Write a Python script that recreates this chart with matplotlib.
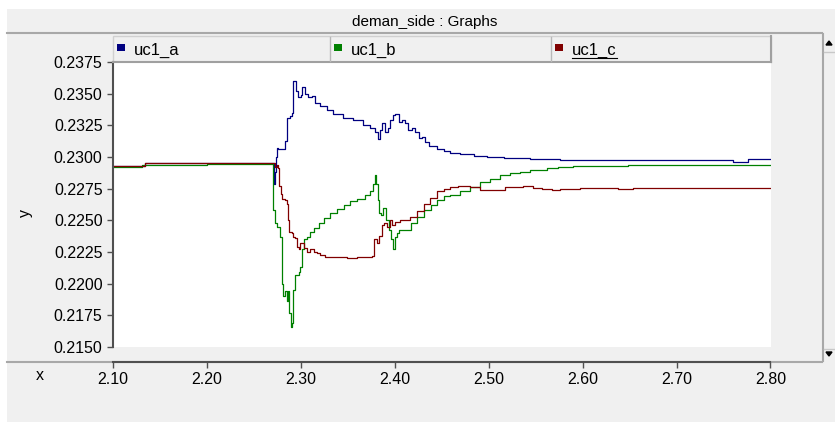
import numpy as np
import matplotlib
matplotlib.use("Agg")
import matplotlib.pyplot as plt
from matplotlib.patches import Rectangle, Polygon
from matplotlib.lines import Line2D

plt.rcParams['font.family'] = ['Liberation Sans', 'DejaVu Sans']

# --- data (step series) ---
x_a = [2.100, 2.134, 2.270, 2.271, 2.2726, 2.2737, 2.2744, 2.2758, 2.2833, 2.2851,
       2.2886, 2.2904, 2.2921, 2.2947, 2.2974, 2.3000, 2.3017, 2.3046, 2.3081, 2.3117,
       2.3152, 2.3205, 2.3277, 2.3344, 2.3450, 2.3557, 2.3664, 2.3738, 2.3791, 2.3816,
       2.3845, 2.3869, 2.3898, 2.3933, 2.3951, 2.3986, 2.4004, 2.4040, 2.4076, 2.4111,
       2.4146, 2.4182, 2.4217, 2.4253, 2.4289, 2.4324, 2.4359, 2.4449, 2.4519, 2.4590,
       2.4697, 2.4839, 2.4981, 2.5158, 2.5443, 2.5762, 2.7606, 2.7765, 2.800]
y_a = [0.2293, 0.22952, 0.22952, 0.2279, 0.2288, 0.2300, 0.2307, 0.2306, 0.2313, 0.2331,
       0.2332, 0.2335, 0.2360, 0.2352, 0.2347, 0.2349, 0.2355, 0.2350, 0.2347, 0.2348,
       0.2343, 0.2340, 0.2337, 0.2334, 0.2331, 0.2329, 0.2325, 0.2323, 0.2320, 0.2314,
       0.2321, 0.2327, 0.2320, 0.2323, 0.2329, 0.2333, 0.2334, 0.2328, 0.2329, 0.2327,
       0.2321, 0.2323, 0.2320, 0.2315, 0.2316, 0.2312, 0.2309, 0.2306, 0.2305, 0.2303,
       0.2302, 0.2301, 0.2300, 0.2299, 0.22982, 0.22975, 0.2296, 0.22982, 0.22982]

x_b = [2.100, 2.131, 2.200, 2.2697, 2.2707, 2.2726, 2.2744, 2.2779, 2.2797, 2.2803,
       2.2814, 2.2833, 2.2851, 2.2868, 2.2879, 2.2894, 2.2908, 2.2915, 2.2921, 2.2940,
       2.2975, 2.2993, 2.3011, 2.3029, 2.3065, 2.3100, 2.3135, 2.3189, 2.3242, 2.3313,
       2.3385, 2.3456, 2.3527, 2.3598, 2.3687, 2.3740, 2.3769, 2.3786, 2.3804, 2.3818,
       2.3829, 2.3854, 2.3876, 2.3911, 2.3936, 2.3961, 2.3982, 2.4007, 2.4025, 2.4043,
       2.4096, 2.4168, 2.4239, 2.4310, 2.4381, 2.4449, 2.4519, 2.4590, 2.4697, 2.4804,
       2.4910, 2.5017, 2.5123, 2.5230, 2.5336, 2.5443, 2.5624, 2.5741, 2.5901, 2.6487,
       2.800]
y_b = [0.2292, 0.2294, 0.22945, 0.22945, 0.2258, 0.2248, 0.2245, 0.2237, 0.2224, 0.2200,
       0.2190, 0.2194, 0.2186, 0.2194, 0.2177, 0.2166, 0.2169, 0.2182, 0.2195, 0.2207,
       0.2209, 0.2213, 0.2227, 0.2235, 0.2237, 0.2241, 0.2244, 0.2248, 0.2252, 0.2256,
       0.2259, 0.2262, 0.2265, 0.2267, 0.2270, 0.2273, 0.2279, 0.2286, 0.2279, 0.2266,
       0.2256, 0.2254, 0.2260, 0.2250, 0.2242, 0.2235, 0.2227, 0.2237, 0.2240, 0.2242,
       0.2242, 0.2248, 0.2253, 0.2258, 0.2262, 0.2266, 0.2269, 0.2270, 0.2273, 0.2276,
       0.2280, 0.2283, 0.2286, 0.2287, 0.2288, 0.22897, 0.2291, 0.2292, 0.2293, 0.2294,
       0.2294]

x_c = [2.100, 2.134, 2.2708, 2.2726, 2.2744, 2.2761, 2.2772, 2.2787, 2.2797, 2.2833,
       2.2851, 2.2858, 2.2879, 2.2904, 2.2921, 2.2940, 2.2958, 2.2975, 2.2993, 2.3029,
       2.3065, 2.3100, 2.3135, 2.3171, 2.3206, 2.3260, 2.3385, 2.3491, 2.3598, 2.3758,
       2.3776, 2.3812, 2.3829, 2.3865, 2.3890, 2.3919, 2.3951, 2.3969, 2.4004, 2.4057,
       2.4164, 2.4235, 2.4306, 2.4377, 2.4449, 2.4519, 2.4590, 2.4675, 2.4803, 2.4910,
       2.5049, 2.5177, 2.5369, 2.5475, 2.5571, 2.5677, 2.5762, 2.5976, 2.6381, 2.6541,
       2.800]
y_c = [0.2293, 0.22950, 0.22950, 0.2292, 0.2294, 0.2291, 0.2277, 0.2271, 0.2267, 0.2266,
       0.2263, 0.2250, 0.2241, 0.2240, 0.2237, 0.2236, 0.2229, 0.2227, 0.2232, 0.2228,
       0.2225, 0.2227, 0.2225, 0.2224, 0.2223, 0.2221, 0.2221, 0.2220, 0.2221, 0.2222,
       0.2235, 0.2232, 0.2238, 0.2246, 0.2248, 0.2245, 0.2250, 0.2246, 0.2249, 0.2250,
       0.2253, 0.2257, 0.2263, 0.2268, 0.2273, 0.2275, 0.2276, 0.2277, 0.2276, 0.2274,
       0.2274, 0.2276, 0.2277, 0.22758, 0.2275, 0.2274, 0.2275, 0.22755, 0.2275, 0.22755,
       0.22755]

series = ['uc1_a', 'uc1_b', 'uc1_c']
colors = ['#000080', '#008000', '#800000']
x_ticks = [2.10, 2.20, 2.30, 2.40, 2.50, 2.60, 2.70, 2.80]
y_ticks = [0.2150, 0.2175, 0.2200, 0.2225, 0.2250, 0.2275, 0.2300, 0.2325, 0.2350, 0.2375]

W, H = 835, 422
fig = plt.figure(figsize=(W / 100, H / 100), dpi=100, facecolor='white')


def fx(px):
    return px / W


def fy(py):
    return 1 - py / H


gray = '#f0f0f0'
# window panel (behind everything)
fig.patches.append(Rectangle((fx(7), 0), fx(835) - fx(7), fy(9), transform=fig.transFigure,
                             facecolor=gray, edgecolor='none', zorder=-10))
fig.lines.append(Line2D([fx(7), fx(822)], [fy(33), fy(33)], transform=fig.transFigure,
                        color='#a8a8a8', lw=1.5, zorder=-5))
fig.lines.append(Line2D([fx(7), fx(822)], [fy(362), fy(362)], transform=fig.transFigure,
                        color='#a8a8a8', lw=1.5, zorder=-5))
fig.lines.append(Line2D([fx(823), fx(823)], [fy(34), fy(361)], transform=fig.transFigure,
                        color='#a8a8a8', lw=1.5, zorder=-5))
# scroll bar bits
fig.lines.append(Line2D([fx(824), fx(835)], [fy(52), fy(52)], transform=fig.transFigure,
                        color='#c8c8c8', lw=1, zorder=-5))
fig.lines.append(Line2D([fx(824), fx(835)], [fy(349), fy(349)], transform=fig.transFigure,
                        color='#c8c8c8', lw=1, zorder=-5))
fig.patches.append(Polygon([(fx(829), fy(41)), (fx(826), fy(45)), (fx(832), fy(45))],
                           closed=True, transform=fig.transFigure, color='black', zorder=-5))
fig.patches.append(Polygon([(fx(829), fy(356)), (fx(826), fy(352)), (fx(832), fy(352))],
                           closed=True, transform=fig.transFigure, color='black', zorder=-5))

fig.text(fx(425), fy(22), 'deman_side : Graphs', ha='center', va='center', fontsize=11)

# axes
ax = fig.add_axes([fx(113), fy(347), fx(770.5) - fx(113), fy(62) - fy(347)])
ax.set_zorder(2)
ax.set_facecolor('white')
for xs, ys, c in zip([x_a, x_b, x_c], [y_a, y_b, y_c], colors):
    ax.plot(xs, ys, drawstyle='steps-post', color=c, lw=0.9)

ax.set_xlim(2.10, 2.80)
ax.set_ylim(0.2150, 0.2375)
ax.set_xticks(x_ticks)
ax.set_xticklabels(['%.2f' % v for v in x_ticks])
ax.set_yticks(y_ticks)
ax.set_yticklabels(['%.4f' % v for v in y_ticks])
ax.spines['top'].set_visible(False)
ax.spines['right'].set_visible(False)
ax.spines['left'].set_color('#505050')
ax.spines['left'].set_linewidth(1.5)
ax.spines['bottom'].set_color('#505050')
ax.spines['bottom'].set_linewidth(1.5)
ax.spines['bottom'].set_position(('outward', 10.8))
ax.tick_params(axis='both', colors='#505050', labelcolor='black', labelsize=11.5,
               length=4.5, width=1, pad=3)

fig.text(fx(25), fy(213), 'y', rotation=90, ha='center', va='center', fontsize=11.5)
fig.text(fx(40), fy(376), 'x', ha='center', va='center', fontsize=11.5)

# legend bar
fig.patches.append(Rectangle((fx(113), fy(62)), fx(771) - fx(113), fy(36) - fy(62),
                             transform=fig.transFigure, facecolor=gray,
                             edgecolor='#d0d0d0', lw=1, zorder=1))
fig.lines.append(Line2D([fx(113), fx(771)], [fy(61.5), fy(61.5)], transform=fig.transFigure,
                        color='#a0a0a0', lw=1.5))
fig.lines.append(Line2D([fx(771), fx(771)], [fy(36), fy(62)], transform=fig.transFigure,
                        color='#a0a0a0', lw=1.5))
cells = [113, 330, 551]
for i, (name, c) in enumerate(zip(series, colors)):
    left = cells[i]
    if i > 0:
        fig.lines.append(Line2D([fx(left), fx(left)], [fy(37), fy(61)],
                                transform=fig.transFigure, color='#b8b8b8', lw=1))
    fig.patches.append(Rectangle((fx(left + 4), fy(50.5)), fx(7.5), fy(44) - fy(50.5),
                                 transform=fig.transFigure, facecolor=c, edgecolor='none'))
    fig.text(fx(left + 21), fy(50), name, ha='left', va='center', fontsize=12)
    if i == 2:
        fig.lines.append(Line2D([fx(left + 21), fx(left + 66)], [fy(57.5), fy(57.5)],
                                transform=fig.transFigure, color='black', lw=0.8))

fig.savefig('out.png', dpi=100, facecolor=fig.get_facecolor())
